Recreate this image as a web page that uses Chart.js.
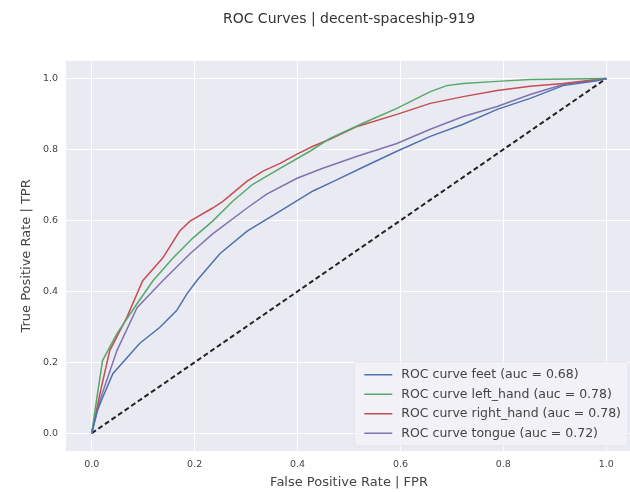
<!DOCTYPE html>
<html>
<head>
<meta charset="utf-8">
<script src="https://cdn.jsdelivr.net/npm/chart.js@4/dist/chart.umd.min.js"></script>
<style>
  html, body { margin: 0; padding: 0; background: #fff; overflow: hidden; }
  #wrap { width: 630px; height: 492px; overflow: hidden; }
</style>
</head>
<body>
<div id="wrap"><canvas id="roc" width="640" height="492"></canvas></div>
<script>
'use strict';

const TITLE = 'ROC Curves | decent-spaceship-919';
const X_LABEL = 'False Positive Rate | FPR';
const Y_LABEL = 'True Positive Rate | TPR';
const TICKS = [0, 0.2, 0.4, 0.6, 0.8, 1.0];

const feetFpr = [0, 0.01, 0.021, 0.041, 0.093, 0.132, 0.165, 0.185, 0.204, 0.249, 0.302, 0.366, 0.43, 0.47, 0.527, 0.593, 0.658, 0.722, 0.788, 0.852, 0.916, 0.982, 1];
const feetTpr = [0, 0.06, 0.10, 0.168, 0.253, 0.298, 0.346, 0.393, 0.43, 0.506, 0.57, 0.626, 0.683, 0.71, 0.75, 0.795, 0.837, 0.871, 0.913, 0.944, 0.98, 0.994, 1];

const leftFpr = [0, 0.01, 0.021, 0.049, 0.088, 0.119, 0.158, 0.197, 0.235, 0.274, 0.313, 0.366, 0.424, 0.463, 0.527, 0.593, 0.658, 0.69, 0.722, 0.788, 0.852, 1];
const leftTpr = [0, 0.10, 0.205, 0.281, 0.365, 0.43, 0.494, 0.551, 0.598, 0.654, 0.702, 0.747, 0.795, 0.831, 0.874, 0.916, 0.963, 0.98, 0.986, 0.992, 0.997, 1];

const rightFpr = [0, 0.016, 0.035, 0.068, 0.099, 0.138, 0.171, 0.191, 0.235, 0.255, 0.302, 0.333, 0.366, 0.399, 0.43, 0.463, 0.516, 0.593, 0.658, 0.722, 0.788, 0.852, 0.916, 0.982, 1];
const rightTpr = [0, 0.112, 0.233, 0.326, 0.43, 0.494, 0.57, 0.598, 0.635, 0.654, 0.711, 0.739, 0.761, 0.787, 0.809, 0.829, 0.865, 0.899, 0.93, 0.949, 0.966, 0.978, 0.986, 0.997, 1];

const tongueFpr = [0, 0.016, 0.049, 0.088, 0.138, 0.191, 0.235, 0.302, 0.34, 0.399, 0.449, 0.516, 0.593, 0.658, 0.722, 0.788, 0.852, 0.916, 1];
const tongueTpr = [0, 0.093, 0.233, 0.354, 0.43, 0.506, 0.562, 0.635, 0.674, 0.719, 0.747, 0.781, 0.817, 0.857, 0.893, 0.921, 0.955, 0.983, 1];

const chanceFpr = [0, 1];
const chanceTpr = [0, 1];

const CLASS_NAMES = ['feet', 'left_hand', 'right_hand', 'tongue'];
const AUCS = ['0.68', '0.78', '0.78', '0.72'];
const COLORS = ['#4C72B0', '#55A868', '#C44E52', '#8172B2'];

const FONT = '"DejaVu Sans", sans-serif';
const TEXT = '#444444';

const toPoints = (xs, ys) => xs.map((x, i) => ({ x, y: ys[i] }));

const curves = [[feetFpr, feetTpr], [leftFpr, leftTpr], [rightFpr, rightTpr], [tongueFpr, tongueTpr]];

const datasets = curves.map(([xs, ys], i) => ({
  label: `ROC curve ${CLASS_NAMES[i]} (auc = ${AUCS[i]})`,
  data: toPoints(xs, ys),
  borderColor: COLORS[i],
  borderWidth: 1.5,
  pointRadius: 0,
  tension: 0,
  fill: false
}));

datasets.push({
  label: '',
  data: toPoints(chanceFpr, chanceTpr),
  borderColor: '#222',
  borderWidth: 2,
  borderDash: [5, 3],
  pointRadius: 0,
  fill: false
});

// seaborn-ish plot background
const plotBg = {
  id: 'plotBg',
  beforeDraw(chart) {
    const { ctx, chartArea: a } = chart;
    ctx.save();
    ctx.fillStyle = '#EAEAF2';
    ctx.fillRect(a.left, a.top, a.right - a.left, a.bottom - a.top);
    ctx.restore();
  }
};

// legend box in the lower right corner, like matplotlib's loc='lower right'
const boxLegend = {
  id: 'boxLegend',
  afterDatasetsDraw(chart) {
    const { ctx, chartArea: a } = chart;
    const items = chart.data.datasets.filter(d => d.label);
    const rowH = 19.5;
    ctx.save();
    ctx.font = `12.5px ${FONT}`;
    const textW = Math.max(...items.map(d => ctx.measureText(d.label).width));
    const right = a.right - 4;
    const bottom = a.bottom - 5;
    const width = 10 + 28 + 10 + textW + 6;
    const height = items.length * rowH + 6;
    const left = right - width;
    const top = bottom - height;
    ctx.fillStyle = 'rgba(242,242,247,0.8)';
    ctx.strokeStyle = 'rgba(225,225,232,0.8)';
    ctx.lineWidth = 1;
    ctx.beginPath();
    ctx.roundRect(left, top, width, height, 3);
    ctx.fill();
    ctx.stroke();
    items.forEach((d, i) => {
      const y = top + 3 + rowH * (i + 0.5);
      ctx.strokeStyle = d.borderColor;
      ctx.lineWidth = 1.5;
      ctx.beginPath();
      ctx.moveTo(left + 10, y);
      ctx.lineTo(left + 38, y);
      ctx.stroke();
      ctx.fillStyle = TEXT;
      ctx.textBaseline = 'middle';
      ctx.fillText(d.label, left + 47, y);
    });
    ctx.restore();
  }
};

const axis = (label, fitKey, fitVal) => ({
  type: 'linear',
  min: -0.05,
  max: 1.05,
  afterBuildTicks: s => { s.ticks = TICKS.map(value => ({ value })); },
  afterFit: s => { s[fitKey] = fitVal; },
  border: { display: false },
  grid: { color: '#ffffff', lineWidth: 1, drawTicks: false },
  ticks: {
    padding: 8,
    color: TEXT,
    font: { family: FONT, size: 9.5 },
    callback: v => v.toFixed(1)
  },
  title: {
    display: true,
    text: label,
    color: TEXT,
    font: { family: FONT, size: 13 },
    padding: 2
  }
});

new Chart(document.getElementById('roc'), {
  type: 'line',
  data: { datasets },
  options: {
    responsive: false,
    animation: false,
    devicePixelRatio: 1,
    layout: { padding: { top: 0, right: 8, left: 17, bottom: 0 } },
    scales: {
      x: axis(X_LABEL, 'height', 41),
      y: axis(Y_LABEL, 'width', 49)
    },
    plugins: {
      legend: { display: false },
      tooltip: { enabled: false },
      title: {
        display: true,
        text: TITLE,
        fullSize: false,
        color: '#333',
        font: { family: FONT, size: 14, weight: 'normal' },
        padding: { top: 11, bottom: 33 }
      }
    }
  },
  plugins: [plotBg, boxLegend]
});
</script>
</body>
</html>
